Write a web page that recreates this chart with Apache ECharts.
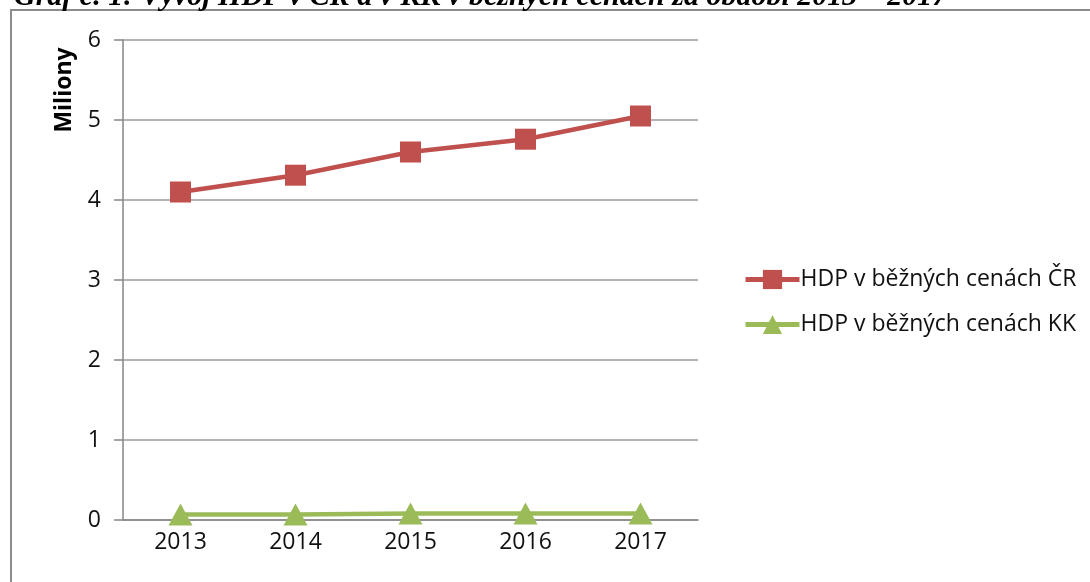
<!DOCTYPE html>
<html>
<head>
<meta charset="utf-8">
<script src="https://cdn.jsdelivr.net/npm/echarts@6/dist/echarts.min.js"></script>
<style>
  html, body { margin: 0; padding: 0; background: #fff; }
  #chart { width: 1090px; height: 582px; }
</style>
</head>
<body>
<div id="chart"></div>
<script>
const years = ['2013', '2014', '2015', '2016', '2017'];
const hdpCR = [4.10, 4.31, 4.60, 4.76, 5.05];
const hdpKK = [0.07, 0.07, 0.08, 0.08, 0.08];
const seriesNames = ['HDP v běžných cenách ČR', 'HDP v běžných cenách KK'];

let myChart = echarts.init(document.getElementById('chart'));
let option = {
    animation: false,
    color: ['#C0504D', '#9BBB59'],
    textStyle: { fontFamily: 'Open Sans' },
    graphic: [
        {   // rámeček grafu
            type: 'rect',
            shape: { x: 11, y: 10, width: 1100, height: 600 },
            style: { fill: 'none', stroke: '#8c8c8c', lineWidth: 2 },
            z: -1
        },
        {   // useknutý nadpis nahoře
            type: 'text',
            left: 14,
            top: -18,
            style: {
                text: 'Graf č. 1: Vývoj HDP v ČR a v KK v běžných cenách za období 2013 – 2017',
                font: 'italic bold 30px "Liberation Serif"',
                fill: '#000'
            }
        },
        {
            type: 'text',
            x: 64,
            y: 90,
            rotation: Math.PI / 2,
            style: {
                text: 'Miliony',
                font: 'bold 23px "Open Sans"',
                fill: '#000',
                textAlign: 'center',
                textVerticalAlign: 'middle'
            }
        }
    ],
    legend: {
        orient: 'vertical',
        left: 738,
        top: 263,
        itemGap: 22,
        itemWidth: 54,
        itemHeight: 24,
        lineStyle: { width: 5 },
        textStyle: { fontSize: 23, color: '#111', fontFamily: 'Open Sans', padding: [0, 0, 0, -4] },
        data: seriesNames
    },
    grid: {
        left: 123,
        top: 40,
        right: 392,
        bottom: 62,
        containLabel: false
    },
    xAxis: {
        type: 'category',
        data: years,
        boundaryGap: true,
        axisLine: { lineStyle: { color: '#868686', width: 1.5 } },
        axisTick: { length: 9, lineStyle: { color: '#868686', width: 1.5 } },
        axisLabel: { color: '#111', fontSize: 23, margin: 11 }
    },
    yAxis: {
        type: 'value',
        min: 0,
        max: 6,
        interval: 1,
        axisLine: { show: true, lineStyle: { color: '#868686', width: 1.5 } },
        axisTick: { show: true, length: 9, lineStyle: { color: '#868686', width: 1.5 } },
        axisLabel: { color: '#111', fontSize: 23, margin: 22 },
        splitLine: { lineStyle: { color: '#9a9a9a', width: 1.5 } }
    },
    series: [
        {
            name: seriesNames[0],
            type: 'line',
            data: hdpCR,
            symbol: 'rect',
            symbolSize: 21,
            lineStyle: { width: 4.5 },
            itemStyle: { color: '#C0504D' }
        },
        {
            name: seriesNames[1],
            type: 'line',
            data: hdpKK,
            symbol: 'triangle',
            symbolSize: [24, 22],
            lineStyle: { width: 4.5 },
            itemStyle: { color: '#9BBB59' }
        }
    ]
};
myChart.setOption(option);
</script>
</body>
</html>
